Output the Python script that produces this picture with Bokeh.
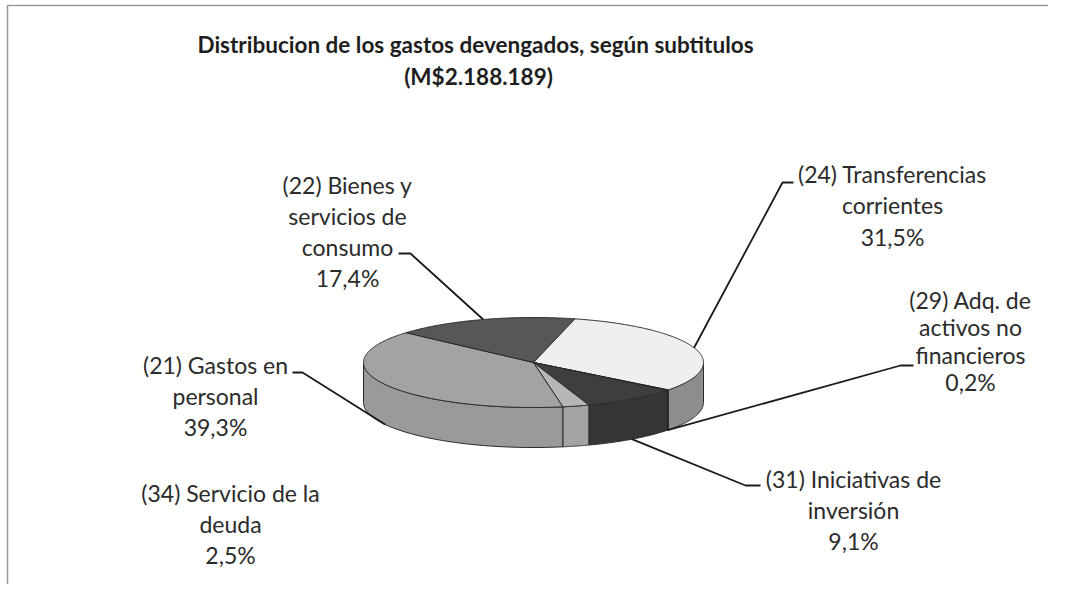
import numpy as np
from bokeh.plotting import figure
from bokeh.models import Range1d, ColumnDataSource
from bokeh.core.properties import value
from bokeh.embed import file_html
from bokeh.resources import INLINE

# ---------------- data ----------------
codes = ["(21)", "(22)", "(24)", "(29)", "(31)", "(34)"]
names = ["Gastos en personal", "Bienes y servicios de consumo", "Transferencias corrientes",
         "Adq. de activos no financieros", "Iniciativas de inversión", "Servicio de la deuda"]
values = [39.3, 17.4, 31.5, 0.2, 9.1, 2.5]
pct_labels = ["39,3%", "17,4%", "31,5%", "0,2%", "9,1%", "2,5%"]
label_lines = [
    ["(21) Gastos en", "personal", "39,3%"],
    ["(22) Bienes y", "servicios de", "consumo", "17,4%"],
    ["(24) Transferencias", "corrientes", "31,5%"],
    ["(29) Adq. de", "activos no", "financieros", "0,2%"],
    ["(31) Iniciativas de", "inversión", "9,1%"],
    ["(34) Servicio de la", "deuda", "2,5%"],
]
title_lines = ["Distribucion de los gastos devengados, según subtitulos", "(M$2.188.189)"]

# ---------------- style / layout ----------------
top_colors = ["#a3a3a3", "#575757", "#efefef", "#2a2a2a", "#3e3e3e", "#b6b6b6"]
side_colors = ["#9a9a9a", "#4a4a4a", "#8d8d8d", "#222222", "#363636", "#a4a4a4"]
CX, CY, RX, RY, DEPTH = 533.0, 362.0, 170.0, 45.0, 40.0
START = 170.0  # degrees clockwise from 12 o'clock

label_cx = [215, 347, 892, 970, 853, 230]
label_y0 = [364, 184, 173, 299, 478, 492]
line_gap = [31, 31, 31.5, 27.5, 31, 31]
ticks = [((292, 372), (302, 372)), ((398, 253), (410, 253)), ((793, 182), (782, 182)),
         ((913, 365), (900, 365)), ((760, 485), (745, 485)), None]

FONT = "Lato"
W, H = 1048, 584

p = figure(width=W, height=H, x_range=Range1d(0, W), y_range=Range1d(H, 0),
           output_backend="svg", toolbar_location=None, min_border=0)
p.axis.visible = False
p.xgrid.visible = False
p.ygrid.visible = False
p.outline_line_color = None
p.background_fill_color = "white"
p.border_fill_color = "white"

# chart frame
p.line([7, 7, W], [H, 5, 5], line_color="#9a9a9a", line_width=1.5)


def pt(t_deg, down=0.0):
    t = np.radians(t_deg)
    return CX + RX * np.sin(t), CY - RY * np.cos(t) + down


total = sum(values)
starts, ends = [], []
a = START
for v in values:
    b = a + 360.0 * v / total
    starts.append(a)
    ends.append(b)
    a = b

# side faces (front half: 90..270 deg, also 450..630)
sx, sy, sc = [], [], []
for i in range(len(values)):
    for lo_w, hi_w in [(90, 270), (450, 630)]:
        lo = max(starts[i], lo_w)
        hi = min(ends[i], hi_w)
        if hi > lo:
            ts = np.linspace(lo, hi, 60)
            xt, yt = pt(ts)
            xb, yb = pt(ts[::-1], DEPTH)
            sx.append(list(np.concatenate([xt, xb])))
            sy.append(list(np.concatenate([yt, yb])))
            sc.append(side_colors[i])
p.patches(xs="xs", ys="ys", source=ColumnDataSource(dict(xs=sx, ys=sy, c=sc)),
          fill_color="c", line_color="#2a2a2a", line_width=1)

# top faces
tx, ty = [], []
for i in range(len(values)):
    ts = np.linspace(starts[i], ends[i], max(4, int((ends[i] - starts[i]) * 2)))
    xa, ya = pt(ts)
    tx.append([CX] + list(xa))
    ty.append([CY] + list(ya))
p.patches(xs="xs", ys="ys", source=ColumnDataSource(dict(xs=tx, ys=ty, c=top_colors)),
          fill_color="c", line_color="#2a2a2a", line_width=1)

# leader lines
lx, ly = [], []
for i in range(len(values)):
    if ticks[i] is None:
        continue
    mid = (starts[i] + ends[i]) / 2.0
    if np.cos(np.radians(mid)) > 0:
        ax, ay = pt(mid)
    else:
        ax, ay = pt(mid, DEPTH)
    (x0, y0), (x1, y1) = ticks[i]
    lx.append([x0, x1, float(ax)])
    ly.append([y0, y1, float(ay)])
p.multi_line(xs=lx, ys=ly, line_color="#1a1a1a", line_width=1.8)

# labels
txt, txx, txy = [], [], []
for i, lines in enumerate(label_lines):
    for k, s in enumerate(lines):
        txt.append(s)
        txx.append(label_cx[i])
        txy.append(label_y0[i] + k * line_gap[i])
p.text(x=txx, y=txy, text=txt, text_align="center", text_baseline="middle",
       text_font=value(FONT), text_font_size="23px", text_color="#2b2b2b")

# title
p.text(x=[475, 478], y=[44, 76], text=title_lines, text_align="center", text_baseline="middle",
       text_font=value(FONT), text_font_size="22.5px", text_font_style="bold", text_color="#1e1e1e")

open("out.html", "w").write(file_html(p, INLINE))
